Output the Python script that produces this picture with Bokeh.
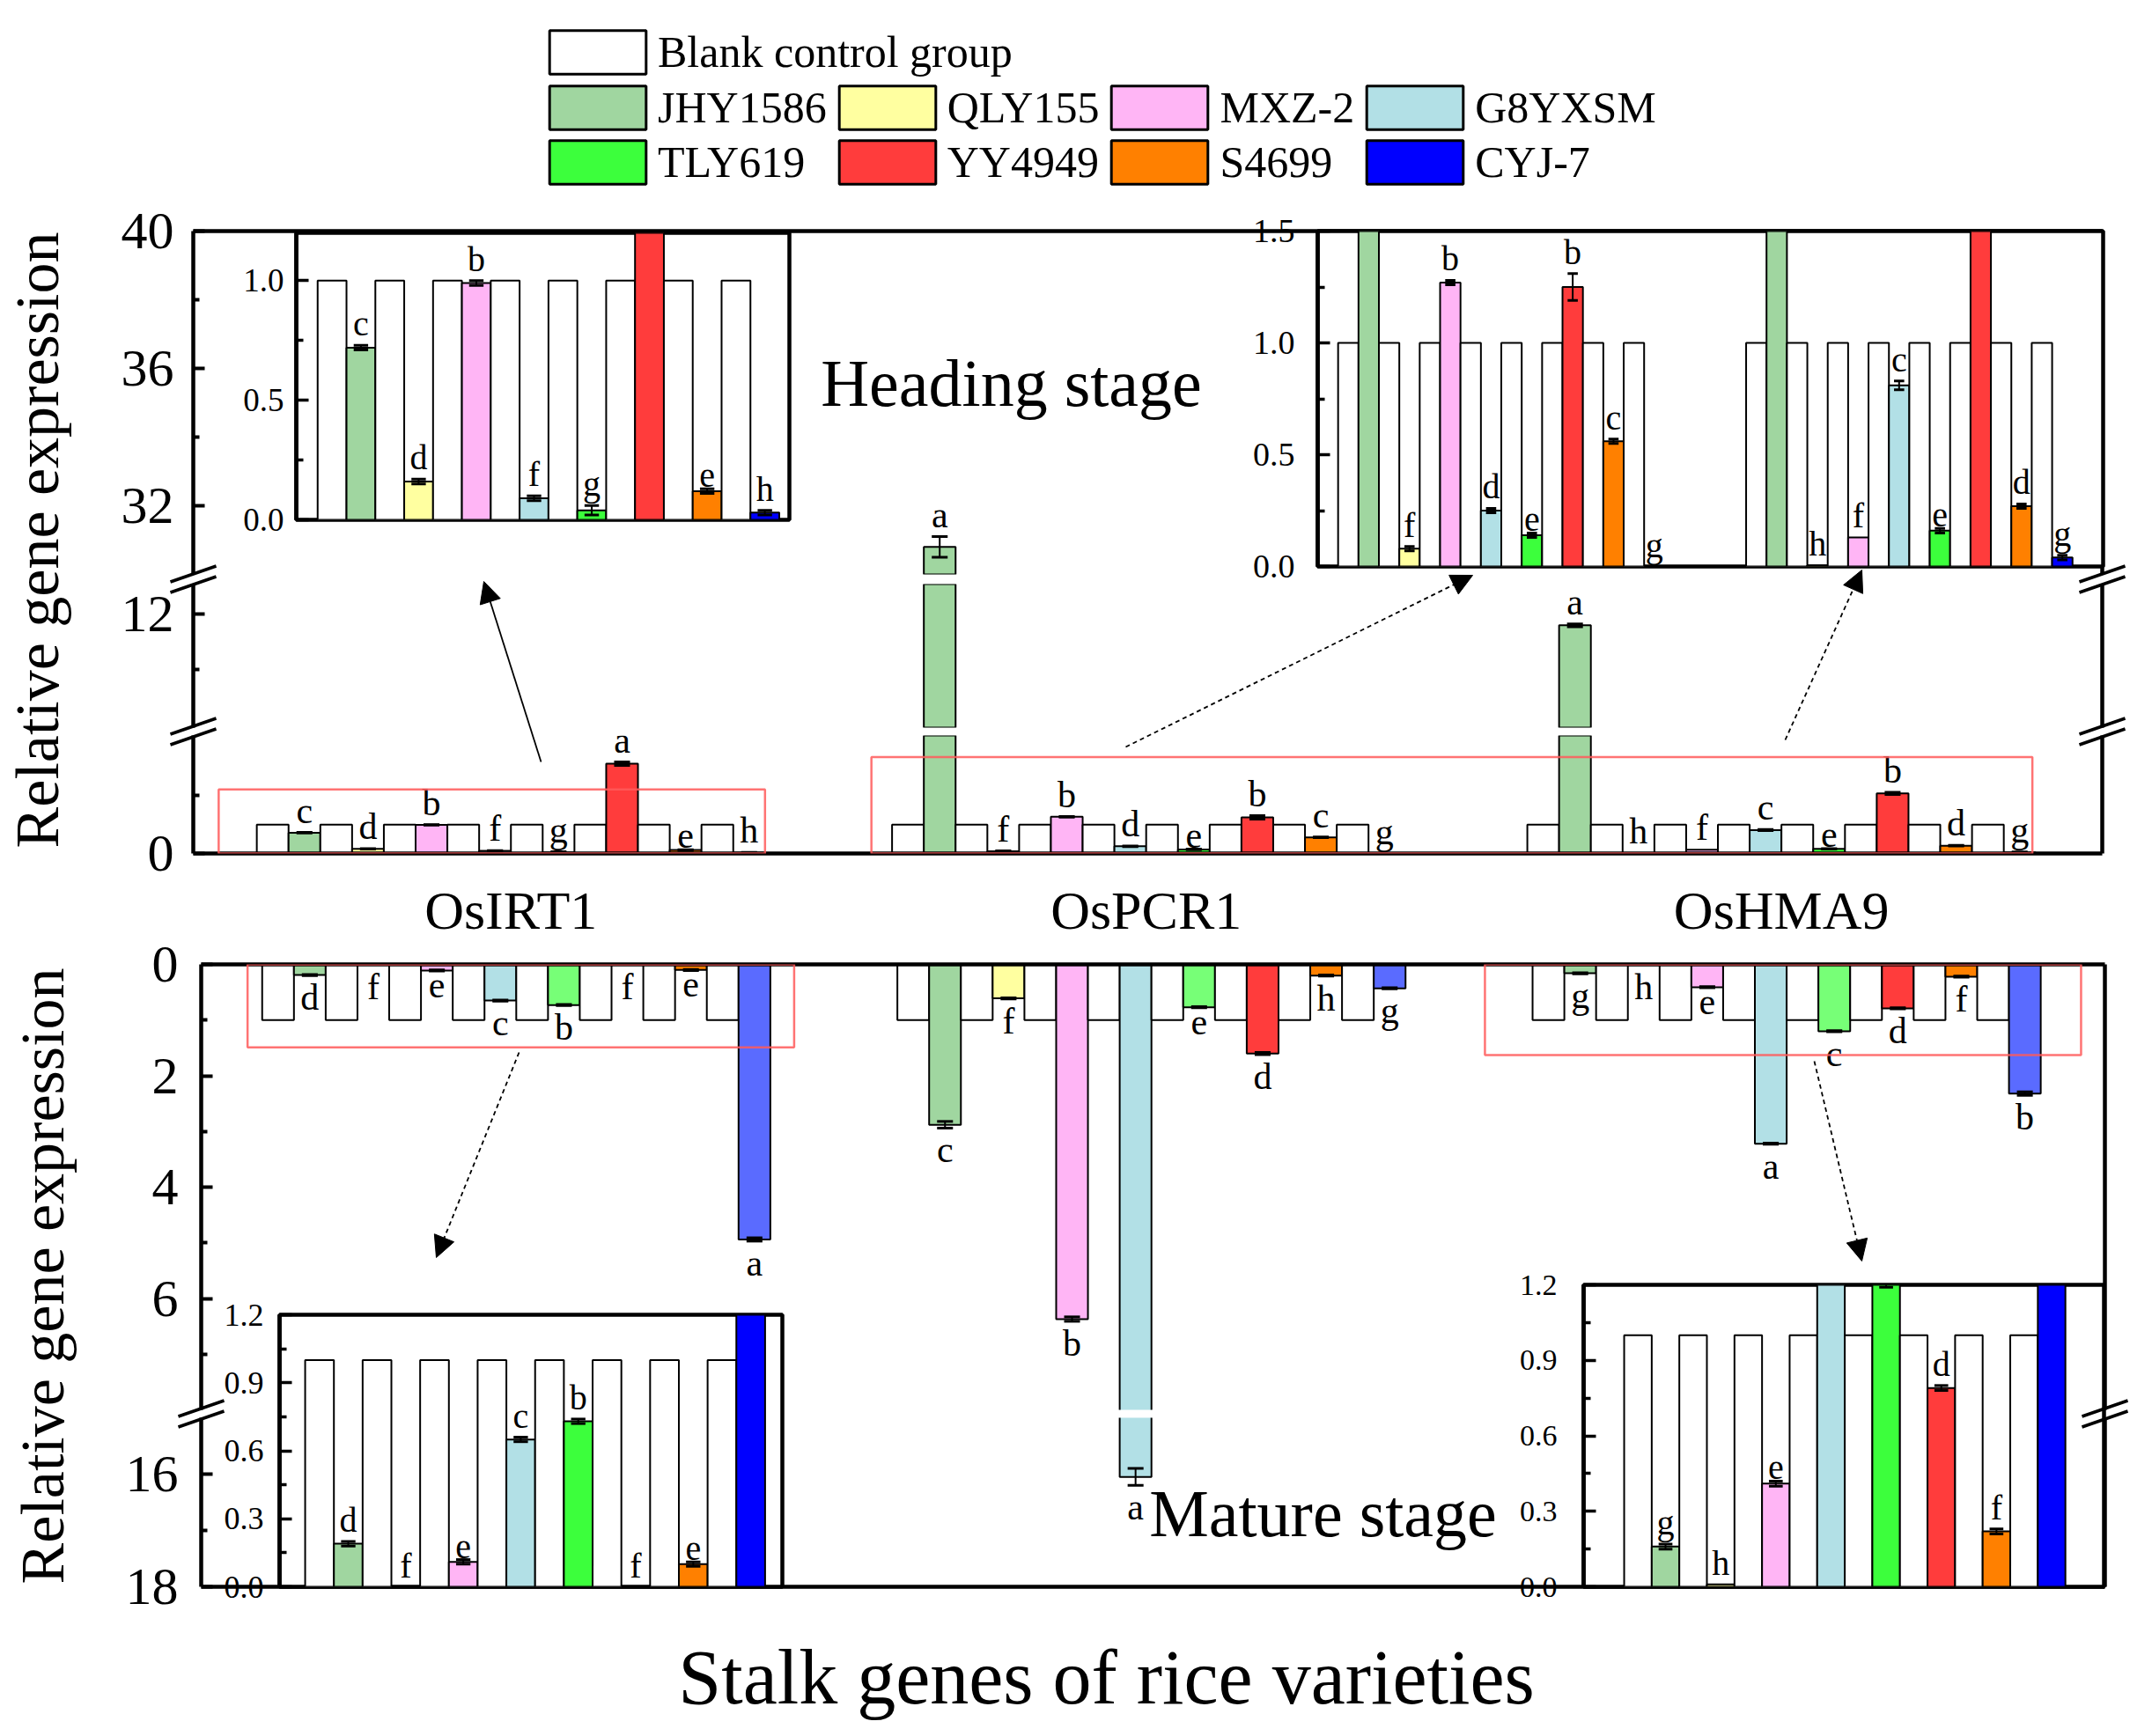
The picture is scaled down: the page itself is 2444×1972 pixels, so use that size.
import math
from bokeh.plotting import figure
from bokeh.models import (Range1d, LinearAxis, FixedTicker, PrintfTickFormatter, BoxAnnotation,
                          Arrow, NormalHead, Label, Legend, LegendItem, GridBox, Column)
from bokeh.core.properties import value
from bokeh.embed import file_html
from bokeh.resources import INLINE

W, H = 2440, 1968
FONT = "Liberation Serif"

# ---------------- data ----------------
genes = ["OsIRT1", "OsPCR1", "OsHMA9"]
varieties = ["JHY1586", "QLY155", "MXZ-2", "G8YXSM", "TLY619", "YY4949", "S4699", "CYJ-7"]
blank_name = "Blank control group"
blank_color = "#FFFFFF"
variety_colors = ["#A0D6A0", "#FFFFA0", "#FFB5F5", "#B2E0E6", "#3CFF3C", "#FF3C3C", "#FF8000", "#0000FF"]
mature_main_colors = ["#A0D6A0", "#FFFFA0", "#FFB5F5", "#B2E0E6", "#77FF77", "#FF3C3C", "#FF8000", "#5A6BFF"]
blank_value = 1.0

heading_irt1 = [0.72, 0.16, 0.99, 0.09, 0.04, 3.11, 0.12, 0.03]
heading_irt1_err = [0.01, 0.01, 0.01, 0.01, 0.02, 0.06, 0.01, 0.01]
heading_irt1_sig = ["c", "d", "b", "f", "g", "a", "e", "h"]
heading_pcr1 = [30.8, 0.08, 1.27, 0.25, 0.14, 1.25, 0.56, 0.0]
heading_pcr1_err = [0.3, 0.01, 0.01, 0.01, 0.01, 0.06, 0.01, 0.0]
heading_pcr1_sig = ["a", "f", "b", "d", "e", "b", "c", "g"]
heading_hma9 = [11.6, 0.005, 0.13, 0.81, 0.16, 2.08, 0.27, 0.04]
heading_hma9_err = [0.05, 0.0, 0.0, 0.02, 0.01, 0.04, 0.01, 0.01]
heading_hma9_sig = ["a", "h", "f", "c", "e", "b", "d", "g"]

mature_irt1 = [0.19, 0.0, 0.11, 0.65, 0.73, 0.0, 0.10, 4.94]
mature_irt1_err = [0.01, 0.0, 0.01, 0.01, 0.01, 0.0, 0.01, 0.03]
mature_irt1_sig = ["d", "f", "e", "c", "b", "f", "e", "a"]
mature_pcr1 = [2.88, 0.61, 6.37, 16.05, 0.77, 1.60, 0.20, 0.43]
mature_pcr1_err = [0.06, 0.01, 0.04, 0.15, 0.01, 0.02, 0.01, 0.01]
mature_pcr1_sig = ["c", "f", "b", "a", "e", "d", "h", "g"]
mature_hma9 = [0.16, 0.01, 0.41, 3.22, 1.2, 0.79, 0.22, 2.32]
mature_hma9_err = [0.01, 0.0, 0.01, 0.01, 0.01, 0.01, 0.01, 0.03]
mature_hma9_sig = ["g", "h", "e", "a", "c", "d", "f", "b"]

# main-panel tick values
heading_ticks_top = [32, 36, 40]
heading_minor_top = [34, 38]
heading_ticks_mid = [12]
heading_minor_mid = [10]
heading_ticks_low = [0]
heading_minor_low = [2]
mature_ticks_up = [0, 2, 4, 6]
mature_minor_up = [1, 3, 5, 7]
mature_ticks_low = [16, 18]
mature_minor_low = [17]

heading_sets = [(heading_irt1, heading_irt1_err, heading_irt1_sig),
                (heading_pcr1, heading_pcr1_err, heading_pcr1_sig),
                (heading_hma9, heading_hma9_err, heading_hma9_sig)]
mature_sets = [(mature_irt1, mature_irt1_err, mature_irt1_sig),
               (mature_pcr1, mature_pcr1_err, mature_pcr1_sig),
               (mature_hma9, mature_hma9_err, mature_hma9_sig)]

GROUP_PITCH = 20
GROUP_START = 2


# ---------------- helpers ----------------
def base_fig(xr, yr, left, top, right, bottom, frame_bg=None):
    p = figure(width=W, height=H, x_range=xr, y_range=yr, title=None,
               output_backend="svg", toolbar_location=None,
               x_axis_type=None, y_axis_type=None,
               min_border_left=left, min_border_top=top,
               min_border_right=W - right, min_border_bottom=H - bottom)
    p.border_fill_color = None
    p.background_fill_color = frame_bg
    p.outline_line_color = None
    return p


def left_axis(p, ticks, minor, size, standoff, fmt=None, tick_in=13, minor_in=7, lw=4.5, tlw=4):
    ax = LinearAxis(ticker=FixedTicker(ticks=ticks, minor_ticks=minor))
    ax.axis_line_width = lw
    ax.axis_line_color = "black"
    ax.major_tick_in = tick_in
    ax.major_tick_out = 0
    ax.minor_tick_in = minor_in
    ax.minor_tick_out = 0
    ax.major_tick_line_width = tlw
    ax.minor_tick_line_width = tlw
    ax.major_label_text_font = FONT
    ax.major_label_text_font_size = f"{size}px"
    ax.major_label_text_color = "black"
    ax.major_label_standoff = standoff
    if fmt:
        ax.formatter = PrintfTickFormatter(format=fmt)
    p.add_layout(ax, "left")
    return ax


def line_axis(p, side, lw=4.5):
    ax = LinearAxis(ticker=FixedTicker(ticks=[]))
    ax.axis_line_width = lw
    ax.axis_line_color = "black"
    ax.major_tick_line_color = None
    ax.minor_tick_line_color = None
    ax.major_label_text_font_size = "0px"
    p.add_layout(ax, side)
    return ax


def draw_pairs(p, groups, colors, font_px, lo_v, hi_v, downward=False, ymax=None, bar_lw=2):
    """Draw blank/variety bar pairs that fall inside the value window [lo_v, hi_v]."""
    pad = 0.08 * (hi_v - lo_v)
    floor = 0 if lo_v <= 0 else lo_v - pad
    x, top, bottom, fill = [], [], [], []
    ex, lo, hi, xl, xr = [], [], [], [], []
    tx, ty, tt = [], [], []
    for base, (vals, errs, sigs) in groups:
        for k in range(len(vals)):
            xb = base + 2 * k + 0.5
            xv = xb + 1
            for xx, vv, cc in ((xb, blank_value, blank_color), (xv, vals[k], colors[k])):
                if vv > lo_v:
                    x.append(xx)
                    top.append(vv)
                    bottom.append(floor)
                    fill.append(cc)
            e_lo, e_hi = vals[k] - errs[k], vals[k] + errs[k]
            if errs[k] > 0 and e_hi > lo_v and e_lo < hi_v:
                ex.append(xv)
                lo.append(e_lo)
                hi.append(e_hi)
                xl.append(xv - 0.25)
                xr.append(xv + 0.25)
            lim = hi_v if ymax is None else ymax * 0.92
            if lo_v - 1e-9 <= e_hi < lim:
                tx.append(xv)
                ty.append(e_hi)
                tt.append(sigs[k])
    p.vbar(x=x, top=top, bottom=bottom, width=1, fill_color=fill, line_color="black",
           line_width=bar_lw)
    if ex:
        p.segment(x0=ex, y0=lo, x1=ex, y1=hi, line_color="black", line_width=2)
        p.segment(x0=xl, y0=hi, x1=xr, y1=hi, line_color="black", line_width=3)
        p.segment(x0=xl, y0=lo, x1=xr, y1=lo, line_color="black", line_width=3)
    if tx:
        p.text(x=tx, y=ty, text=tt, text_font=value(FONT), text_font_size=value(f"{font_px}px"),
               text_align="center", text_baseline="top" if downward else "bottom",
               y_offset=2 if downward else -2, text_color="black")


figs = []

# ---------------- Heading stage (top panel, broken y axis) ----------------
TX0, TX1 = 219, 2387
top_x = (0, 60.1)
heading_groups = [(GROUP_START + GROUP_PITCH * g, s) for g, s in enumerate(heading_sets)]

seg_specs_top = [
    ((30.0, 40.0), (262, 652), heading_ticks_top, heading_minor_top),
    ((7.88, 13.1), (663, 826), heading_ticks_mid, heading_minor_mid),
    ((0.0, 4.085), (835, 969), heading_ticks_low, heading_minor_low),
]
top_segs = []
for (v0, v1), (t, b), tk, mn in seg_specs_top:
    p = base_fig(Range1d(*top_x), Range1d(v0, v1), TX0, t, TX1, b)
    draw_pairs(p, heading_groups, variety_colors, 42, v0, v1)
    left_axis(p, tk, mn, 60, 22)
    line_axis(p, "right")
    top_segs.append(p)
segA, segB, segC = top_segs
line_axis(segA, "above")
gax = LinearAxis(ticker=FixedTicker(ticks=[GROUP_START + GROUP_PITCH * g + 8 for g in range(3)]))
gax.major_label_overrides = {GROUP_START + GROUP_PITCH * g + 8: genes[g] for g in range(3)}
gax.axis_line_width = 4.5
gax.major_tick_line_color = None
gax.minor_tick_line_color = None
gax.major_label_text_font = FONT
gax.major_label_text_font_size = "62px"
gax.major_label_text_color = "black"
gax.major_label_standoff = 24
segC.add_layout(gax, "below")
segC.add_layout(BoxAnnotation(left=0.8, right=18.0, bottom=0, top=2.22, fill_color=None,
                              line_color="#FF5A5A", line_width=2.5, line_alpha=0.85))
segC.add_layout(BoxAnnotation(left=21.35, right=57.9, bottom=0, top=3.34, fill_color=None,
                              line_color="#FF5A5A", line_width=2.5, line_alpha=0.85))
figs += top_segs

# ---------------- Mature stage (bottom panel, reversed broken y axis) ----------------
BX0, BX1 = 228, 2390
bot_x = (0.08, 60.02)
mature_groups = [(GROUP_START + GROUP_PITCH * g, s) for g, s in enumerate(mature_sets)]
seg_specs_bot = [
    ((0.0, 8.0), (1095, 1601), mature_ticks_up, mature_minor_up),
    ((15.0, 18.0), (1610, 1802), mature_ticks_low, mature_minor_low),
]
bot_segs = []
for (v0, v1), (t, b), tk, mn in seg_specs_bot:
    p = base_fig(Range1d(*bot_x), Range1d(v1, v0), BX0, t, BX1, b)
    draw_pairs(p, mature_groups, mature_main_colors, 42, v0, v1, downward=True)
    left_axis(p, tk, mn, 60, 26)
    line_axis(p, "right")
    bot_segs.append(p)
segD, segE = bot_segs
line_axis(segD, "above")
line_axis(segE, "below")
segD.add_layout(BoxAnnotation(left=1.54, right=18.75, top=0, bottom=1.49, fill_color=None,
                              line_color="#FF5A5A", line_width=2.5, line_alpha=0.85))
segD.add_layout(BoxAnnotation(left=40.5, right=59.27, top=0, bottom=1.63, fill_color=None,
                              line_color="#FF5A5A", line_width=2.5, line_alpha=0.85))
figs += bot_segs


# ---------------- insets ----------------
def inset(xr, yr, l, t, r, b, groups, ticks, minor, size, standoff):
    p = base_fig(Range1d(*xr), Range1d(*yr), l, t, r, b, frame_bg="white")
    p.outline_line_color = "black"
    p.outline_line_width = 4.5
    draw_pairs(p, groups, variety_colors, 40, yr[0], yr[1], ymax=yr[1])
    left_axis(p, ticks, minor, size, standoff, fmt="%.1f", tick_in=14, minor_in=8, lw=4.5, tlw=3.5)
    return p


inTL = inset((-0.74, 16.35), (0, 1.2), 336, 264, 896, 590,
             [(0, heading_sets[0])], [0, 0.5, 1.0], [0.25, 0.75], 37, 14)
inTR = inset((-1.0, 37.5), (0, 1.5), 1496, 262, 2388, 643,
             [(0, heading_sets[1]), (20, heading_sets[2])], [0, 0.5, 1.0, 1.5], [0.25, 0.75, 1.25], 38, 26)
inBL = inset((-0.89, 16.6), (0, 1.2), 317, 1493, 888, 1802,
             [(0, mature_sets[0])], [0, 0.3, 0.6, 0.9, 1.2], [0.15, 0.45, 0.75, 1.05], 36, 18)
inBR = inset((-1.47, 17.4), (0, 1.2), 1798, 1459, 2389, 1802,
             [(0, mature_sets[2])], [0, 0.3, 0.6, 0.9, 1.2], [0.15, 0.45, 0.75, 1.05], 34, 30)
figs += [inTL, inTR, inBL, inBR]

# ---------------- overlay: titles, arrows, axis breaks, legend ----------------
ov = figure(width=W, height=H, x_range=Range1d(0, W), y_range=Range1d(H, 0), title=None,
            output_backend="svg", toolbar_location=None, x_axis_type=None, y_axis_type=None,
            min_border_left=0, min_border_right=0, min_border_top=0, min_border_bottom=0)
ov.border_fill_color = None
ov.background_fill_color = None
ov.outline_line_color = None

ov.add_layout(Label(x=1148, y=434, text="Heading stage", text_font=FONT, text_font_size="76px",
                    text_align="center", text_baseline="alphabetic", text_color="black"))
ov.add_layout(Label(x=1502, y=1718, text="Mature stage", text_font=FONT, text_font_size="76px",
                    text_align="center", text_baseline="alphabetic", text_color="black"))
ov.add_layout(Label(x=1256, y=1905, text="Stalk genes of rice varieties", text_font=FONT,
                    text_font_size="88px", text_align="center", text_baseline="alphabetic",
                    text_color="black"))
for cx, cy in [(42, 613), (48, 1449)]:
    ov.add_layout(Label(x=cx, y=cy, text="Relative gene expression", text_font=FONT,
                        text_font_size="70px", text_align="center", text_baseline="middle",
                        angle=math.pi / 2, text_color="black"))

arrows = [((614, 865), (549, 660), None), ((1278, 848), (1672, 653), "5 4"),
          ((2027, 840), (2114, 647), "5 4"), ((589, 1195), (495, 1428), "5 4"),
          ((2060, 1205), (2114, 1432), "5 4")]
for (xs, ys), (xe, ye), dash in arrows:
    a = Arrow(end=NormalHead(size=24, fill_color="black", line_color="black", line_width=1),
              x_start=xs, y_start=ys, x_end=xe, y_end=ye, line_color="black", line_width=1.8)
    if dash:
        a.line_dash = dash
    ov.add_layout(a)

breaks = [(219, 657.5), (219, 830.5), (2387, 657.5), (2387, 830.5), (228, 1605.5), (2390, 1605.5)]
for bx, by in breaks:
    for d in (-6, 6):
        ov.add_layout(Arrow(start=None, end=None, x_start=bx - 26, y_start=by + d + 9,
                            x_end=bx + 26, y_end=by + d - 9, line_color="black", line_width=3.5))

nan = float("nan")
r_blank = ov.vbar(x=[nan], top=[nan], width=1, fill_color=blank_color, line_color="black",
                  line_width=3)
r_vars = [ov.vbar(x=[nan], top=[nan], width=1, fill_color=c, line_color="black", line_width=3)
          for c in variety_colors]
leg_kw = dict(glyph_width=137, glyph_height=62, label_height=62, label_standoff=0, spacing=0,
              padding=0, margin=0, border_line_color=None, background_fill_alpha=0,
              label_text_font=FONT, label_text_font_size="50px", label_text_color="black")
legA = Legend(items=[LegendItem(label=blank_name, renderers=[r_blank])],
              location=(610, H - 90), **leg_kw)
legB = Legend(items=[LegendItem(label=v, renderers=[r]) for v, r in zip(varieties, r_vars)],
              location=(610, H - 215), orientation="horizontal", ncols=4, **leg_kw)
ov.add_layout(legA)
ov.add_layout(legB)
figs.append(ov)

# each figure wrapped in its own column so the grid does not align their frames
wrapped = [Column(children=[f], width=W, height=H) for f in figs]
grid = GridBox(children=[(c, 0, 0) for c in wrapped])
open("out.html", "w").write(file_html(grid, INLINE))
